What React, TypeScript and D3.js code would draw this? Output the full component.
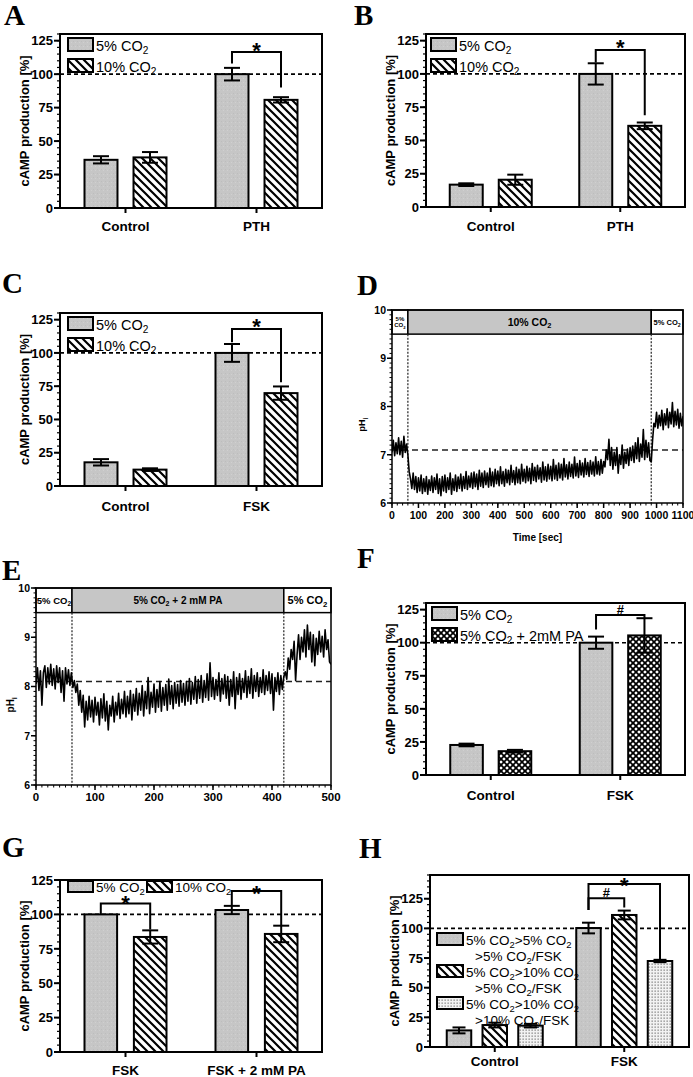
import React from "react";
import * as d3 from "d3";

const SANS = "'Liberation Sans', Arial, Helvetica, sans-serif";
const SERIF = "'Liberation Serif', 'Times New Roman', serif";
const GRAY = "#c6c6c6";

// ---------------- data ----------------
const Y_TICKS = [0, 25, 50, 75, 100, 125];
const REFERENCE = 100;

const A_CATEGORIES = ["Control", "PTH"];
const A_CO2_5 = [36, 100];
const A_CO2_5_ERR = [2.7, 4.7];
const A_CO2_10 = [37.8, 80.8];
const A_CO2_10_ERR = [4, 2];
const A_SIG = [{ category: 1, from: 0, to: 1, top: 116.5, fromEnd: 108, toEnd: 90, mark: "*" }];

const B_CATEGORIES = ["Control", "PTH"];
const B_CO2_5 = [16.8, 100];
const B_CO2_5_ERR = [1, 8];
const B_CO2_10 = [20.5, 61];
const B_CO2_10_ERR = [3.8, 2.5];
const B_SIG = [{ category: 1, from: 0, to: 1, top: 118, fromEnd: 108.5, toEnd: 69, mark: "*" }];

const C_CATEGORIES = ["Control", "FSK"];
const C_CO2_5 = [17.8, 100];
const C_CO2_5_ERR = [2.4, 6.7];
const C_CO2_10 = [12.3, 69.8];
const C_CO2_10_ERR = [1, 5];
const C_SIG = [{ category: 1, from: 0, to: 1, top: 118, fromEnd: 108, toEnd: 78, mark: "*" }];

const F_CATEGORIES = ["Control", "FSK"];
const F_CO2_5 = [22.7, 100];
const F_CO2_5_ERR = [1, 4.6];
const F_PA = [18, 105.5];
const F_PA_ERR = [1, 13];
const F_SIG = [{ category: 1, from: 0, to: 1, top: 121, fromEnd: 110, toEnd: 118, mark: "#" }];

const G_CATEGORIES = ["FSK", "FSK + 2 mM PA"];
const G_CO2_5 = [100, 103.2];
const G_CO2_5_ERR = [0, 3];
const G_CO2_10 = [83.6, 85.8];
const G_CO2_10_ERR = [4.8, 6];
const G_SIG = [
  { category: 0, from: 0, to: 1, top: 108, fromEnd: 100, toEnd: 89, mark: "*" },
  { category: 1, from: 0, to: 1, top: 117, fromEnd: 106.5, toEnd: 92, mark: "*" },
];

const H_CATEGORIES = ["Control", "FSK"];
const H_5_5_5 = [14, 100.3];
const H_5_5_5_ERR = [2.5, 4.5];
const H_5_10_5 = [18.5, 111.3];
const H_5_10_5_ERR = [2, 3.7];
const H_5_10_10 = [18, 72.5];
const H_5_10_10_ERR = [1.5, 1];
const H_SIG = [
  { category: 1, from: 0, to: 2, top: 137.5, fromEnd: 115.5, toEnd: 73.5, mark: "*" },
  { category: 1, from: 0, to: 1, top: 125.5, fromEnd: 115.5, toEnd: 117.5, mark: "#" },
];

const LEGEND_CO2 = ["5% CO{2}", "10% CO{2}"];
const LEGEND_PA = ["5% CO{2}", "5% CO{2} + 2mM PA"];
const LEGEND_H = [
  ["5% CO{2}>5% CO{2}", ">5% CO{2}/FSK"],
  ["5% CO{2}>10% CO{2}", ">5% CO{2}/FSK"],
  ["5% CO{2}>10% CO{2}", ">10% CO{2}/FSK"],
];

// pHi trace D (one reading every 5 s, 0..1100 s)
const D_DURATION = 1100;
const D_PHASES = [0, 60, 980, 1100];
const D_PHASE_LABELS = [["5%", "CO{2}"], ["10% CO{2}"], ["5% CO{2}"]];
const D_BASELINE = 7.1;
const D_X_TICKS = [0, 100, 200, 300, 400, 500, 600, 700, 800, 900, 1000, 1100];
const D_VALUES = [
  7.05, 7.30, 6.98, 7.25, 7.02, 7.35, 7.00, 7.28, 6.95, 7.38, 7.05, 7.22,
  7.00, 6.65, 6.50,
  6.30, 6.62, 6.28, 6.55, 6.22, 6.52, 6.25, 6.58, 6.20, 6.50, 6.24, 6.55, 6.18, 6.48, 6.26, 6.56,
  6.22, 6.52, 6.28, 6.60, 6.20, 6.50, 6.15, 6.55, 6.25, 6.58,
  6.22, 6.52, 6.28, 6.62, 6.18, 6.50, 6.26, 6.58, 6.24, 6.54,
  6.30, 6.60, 6.25, 6.55, 6.30, 6.65, 6.28, 6.56, 6.33, 6.62,
  6.30, 6.64, 6.34, 6.60, 6.28, 6.68, 6.35, 6.62, 6.32, 6.66,
  6.38, 6.62, 6.33, 6.72, 6.36, 6.64, 6.34, 6.70, 6.40, 6.66,
  6.36, 6.75, 6.40, 6.65, 6.35, 6.70, 6.42, 6.68, 6.38, 6.78,
  6.43, 6.67, 6.38, 6.74, 6.42, 6.70, 6.40, 6.80, 6.45, 6.70,
  6.42, 6.76, 6.46, 6.72, 6.40, 6.82, 6.47, 6.74, 6.44, 6.78,
  6.50, 6.73, 6.43, 6.85, 6.48, 6.75, 6.45, 6.80, 6.50, 6.76,
  6.46, 6.90, 6.50, 6.78, 6.47, 6.83, 6.52, 6.80, 6.48, 6.92,
  6.54, 6.79, 6.50, 6.85, 6.55, 6.80, 6.52, 6.95, 6.56, 6.82,
  6.53, 6.88, 6.58, 6.83, 6.54, 6.92, 6.59, 6.84, 6.55, 6.88,
  6.60, 6.85, 6.56, 6.96, 6.60, 6.86, 6.58, 6.90, 6.62, 6.86,
  6.75, 7.10, 6.90, 7.32, 6.78, 7.15,
  6.70, 7.05, 6.78, 7.15, 6.62, 7.00, 6.80, 7.20, 6.72, 7.05, 6.82, 7.12, 6.78, 7.15,
  6.88, 7.18, 6.84, 7.25, 6.92, 7.35, 6.86, 7.22, 6.95, 7.52, 6.90, 7.30, 6.95, 7.25, 6.88, 6.85,
  7.30, 7.65, 7.58, 7.88, 7.55, 7.82, 7.60, 7.92, 7.52, 7.85, 7.62, 7.95,
  7.56, 7.88, 7.64, 8.08, 7.58, 7.90, 7.62, 7.94, 7.55, 7.86, 7.60, 7.80,
];

// pHi trace E (one reading every 2.5 s, 0..500 s)
const E_DURATION = 500;
const E_PHASES = [0, 61, 420, 500];
const E_PHASE_LABELS = [["5% CO{2}"], ["5% CO{2} + 2 mM PA"], ["5% CO{2}"]];
const E_BASELINE = 8.1;
const E_X_TICKS = [0, 100, 200, 300, 400, 500];
const E_VALUES = [
  8.05, 8.38, 7.92, 8.32, 7.62, 8.28, 8.42, 7.98, 8.38, 8.05,
  8.45, 8.02, 8.36, 7.95, 8.42, 8.08, 8.38, 7.88, 8.32, 7.70,
  8.38, 8.05, 8.34, 8.02, 8.28,
  7.98, 8.12, 7.88, 8.05, 7.62, 7.92, 7.48, 7.82,
  7.18, 7.70, 7.32, 7.80, 7.38, 7.72, 7.28, 7.78, 7.42, 7.68,
  7.22, 7.75, 7.36, 7.85, 7.30, 7.70, 7.12, 7.62, 7.40, 7.80,
  7.28, 7.68, 7.42, 7.86, 7.35, 7.74, 7.45, 7.90,
  7.38, 7.80, 7.45, 7.92, 7.32, 7.84, 7.50, 7.96, 7.42, 7.86,
  7.52, 8.02, 7.40, 7.90, 7.55, 8.18, 7.45, 7.88, 7.58, 8.05,
  7.48, 7.94, 7.58, 8.10, 7.50, 7.98, 7.62, 8.04, 7.52, 8.15,
  7.64, 8.02, 7.55, 8.08, 7.66, 8.04, 7.60, 8.12, 7.68, 8.06,
  7.62, 8.10, 7.70, 8.16, 7.64, 8.08, 7.74, 8.20, 7.66, 8.14,
  7.76, 8.22, 7.68, 8.12, 7.78, 8.26, 7.72, 8.48, 7.80, 8.18,
  7.74, 8.14, 7.82, 8.28, 7.70, 8.16, 7.85, 8.24, 7.76, 8.20,
  7.62, 8.14, 7.80, 8.30, 7.55, 8.18, 7.84, 8.26, 7.74, 8.16,
  7.88, 8.32, 7.78, 8.20, 7.86, 8.36, 7.76, 8.22, 7.90, 8.28,
  7.80, 8.18, 7.88, 8.34, 7.84, 8.22, 7.92, 8.30, 7.86, 8.26,
  7.52, 8.18, 7.90, 8.28, 7.84, 8.22, 7.94, 8.20,
  8.30, 8.15, 8.58, 8.35, 8.75, 8.55, 8.92, 8.12,
  8.65, 9.05, 8.55, 9.00, 8.70, 9.15, 8.60, 9.25, 8.75, 9.10,
  8.50, 9.05, 8.42, 8.98, 8.65, 9.12, 8.70, 9.02, 8.60, 9.15,
  8.75, 8.95, 8.50, 8.45,
];

// ---------------- helpers ----------------
function rich(text: string, size: number) {
  const parts = text.split(/\{([^}]*)\}/);
  const out: any[] = [];
  let shifted = false;
  const sh = size * 0.25;
  parts.forEach((part, i) => {
    if (i % 2 === 1) {
      out.push(
        <tspan key={i} dy={sh} fontSize={size * 0.7}>
          {part}
        </tspan>
      );
      shifted = true;
    } else if (part.length) {
      out.push(
        <tspan key={i} dy={shifted ? -sh : 0}>
          {part}
        </tspan>
      );
      shifted = false;
    }
  });
  return out;
}

type Series = { label: string | string[]; values: number[]; errors: number[]; fill: string };
type Sig = { category: number; from: number; to: number; top: number; fromEnd: number; toEnd: number; mark: string };

type BarCfg = {
  left: number; right: number; top: number; bottom: number; yMax: number;
  categories: string[]; series: Series[]; groupWidth: number; innerPad: number;
  catLabelDy: number; cap: number;
  legend: { x: number[]; y: number[]; boxW: number; boxH: number; fontSize: number; lineGap: number };
  sig: Sig[]; markDy: number[];
};

function BarPanel({ c }: { c: BarCfg }) {
  const y = d3.scaleLinear().domain([0, c.yMax]).range([c.bottom, c.top]);
  const x0 = d3.scaleBand<string>().domain(c.categories).range([c.left, c.right]);
  const keys = c.series.map((_, i) => String(i));
  const x1 = d3
    .scaleBand<string>()
    .domain(keys)
    .range([-c.groupWidth / 2, c.groupWidth / 2])
    .paddingInner(c.innerPad);
  const catCenter = (ci: number) => (x0(c.categories[ci]) as number) + x0.bandwidth() / 2;
  const barX = (ci: number, si: number) => catCenter(ci) + (x1(String(si)) as number);
  const barMid = (ci: number, si: number) => barX(ci, si) + x1.bandwidth() / 2;
  const minor = d3.range(0, c.yMax + 0.001, 5);
  const fs = c.legend.fontSize;

  return (
    <g>
      <line x1={c.left} x2={c.right} y1={y(REFERENCE)} y2={y(REFERENCE)} stroke="#000" strokeWidth={1.6} strokeDasharray="4,3" />
      {c.series.map((s, si) =>
        s.values.map((v, ci) => (
          <rect key={`b${si}-${ci}`} x={barX(ci, si)} y={y(v)} width={x1.bandwidth()} height={y(0) - y(v)} fill={s.fill} stroke="#000" strokeWidth={2} />
        ))
      )}
      {c.series.map((s, si) =>
        s.values.map((v, ci) => {
          const e = s.errors[ci];
          if (!e) return null;
          const mx = barMid(ci, si);
          return (
            <g key={`e${si}-${ci}`} stroke="#000" strokeWidth={2}>
              <line x1={mx} x2={mx} y1={y(v - e)} y2={y(v + e)} />
              <line x1={mx - c.cap} x2={mx + c.cap} y1={y(v + e)} y2={y(v + e)} />
              <line x1={mx - c.cap} x2={mx + c.cap} y1={y(v - e)} y2={y(v - e)} />
            </g>
          );
        })
      )}
      {c.sig.map((s, i) => {
        const xa = barMid(s.category, s.from);
        const xb = barMid(s.category, s.to);
        const star = s.mark === "*";
        return (
          <g key={`s${i}`}>
            <path d={`M${xa},${y(s.fromEnd)}V${y(s.top)}H${xb}V${y(s.toEnd)}`} fill="none" stroke="#000" strokeWidth={2} />
            <text x={(xa + xb) / 2} y={y(s.top) + c.markDy[i]} textAnchor="middle" fontFamily={SANS} fontWeight="bold" fontSize={star ? 22 : 13}>
              {s.mark}
            </text>
          </g>
        );
      })}
      {c.series.map((s, si) => {
        const bx = c.legend.x[si];
        const by = c.legend.y[si];
        const lines = Array.isArray(s.label) ? s.label : [s.label];
        return (
          <g key={`l${si}`}>
            <rect x={bx} y={by} width={c.legend.boxW} height={c.legend.boxH} fill={s.fill} stroke="#000" strokeWidth={2} />
            {lines.map((ln, k) => (
              <text key={k} x={bx + c.legend.boxW + 3 + (k > 0 ? 9 : 0)} y={by + c.legend.boxH - 0.5 + k * c.legend.lineGap} fontFamily={SANS} fontSize={fs}>
                {rich(ln, fs)}
              </text>
            ))}
          </g>
        );
      })}
      {minor.map((t) => (
        <line key={`m${t}`} x1={c.left - 3} x2={c.left} y1={y(t)} y2={y(t)} stroke="#000" strokeWidth={1.2} />
      ))}
      {Y_TICKS.map((t) => (
        <g key={`t${t}`}>
          <line x1={c.left - 6} x2={c.left} y1={y(t)} y2={y(t)} stroke="#000" strokeWidth={2} />
          <text x={c.left - 7} y={y(t) + 4.7} textAnchor="end" fontFamily={SANS} fontWeight="bold" fontSize={13}>
            {t}
          </text>
        </g>
      ))}
      {c.categories.map((cat, ci) => (
        <g key={cat}>
          <line x1={catCenter(ci)} x2={catCenter(ci)} y1={c.bottom} y2={c.bottom + 5} stroke="#000" strokeWidth={2} />
          <text x={catCenter(ci)} y={c.bottom + c.catLabelDy} textAnchor="middle" fontFamily={SANS} fontWeight="bold" fontSize={13.5}>
            {cat}
          </text>
        </g>
      ))}
      <text
        transform={`translate(${c.left - 31},${(c.top + c.bottom) / 2}) rotate(-90)`}
        textAnchor="middle"
        fontFamily={SANS}
        fontWeight="bold"
        fontSize={13}
      >
        cAMP production [%]
      </text>
      <rect x={c.left} y={c.top} width={c.right - c.left} height={c.bottom - c.top} fill="none" stroke="#000" strokeWidth={2} />
    </g>
  );
}

type TraceCfg = {
  id: string; left: number; right: number; top: number; bottom: number;
  xMax: number; xTicks: number[]; xMinorStep: number; xFont: number; xLabelDy: number;
  values: number[]; duration: number; phases: number[]; phaseLabels: string[][]; phaseFonts: number[];
  baseline: number; yFont: number; title?: string; yLabelX: number; yLabelFont: number;
};

function TracePanel({ c }: { c: TraceCfg }) {
  const x = d3.scaleLinear().domain([0, c.xMax]).range([c.left, c.right]);
  const y = d3.scaleLinear().domain([6, 10]).range([c.bottom, c.top]);
  const n = c.values.length;
  const line = d3
    .line<number>()
    .x((_, i) => x((i * c.duration) / (n - 1)))
    .y((d) => y(d));
  const bandFloor = 9.5;
  const xMinor = d3.range(0, c.xMax + 0.001, c.xMinorStep);
  const yMajor = [6, 7, 8, 9, 10];
  const yMinor = d3.range(60, 101, 1).map((v) => v / 10);
  return (
    <g>
      <defs>
        <clipPath id={c.id}>
          <rect x={c.left} y={y(bandFloor)} width={c.right - c.left} height={c.bottom - y(bandFloor)} />
        </clipPath>
      </defs>
      {c.phases.slice(0, -1).map((p, i) => (
        <rect key={`p${i}`} x={x(p)} y={y(10)} width={x(c.phases[i + 1]) - x(p)} height={y(bandFloor) - y(10)} fill={i === 1 ? GRAY : "#fff"} stroke="#000" strokeWidth={1.5} />
      ))}
      {c.phases.slice(0, -1).map((p, i) => {
        const cx = (x(p) + x(c.phases[i + 1])) / 2;
        const lines = c.phaseLabels[i];
        const fsz = c.phaseFonts[i];
        const cy = (y(10) + y(bandFloor)) / 2;
        const start = cy + fsz * 0.35 - ((lines.length - 1) * fsz) / 2;
        return lines.map((ln, k) => (
          <text key={`pl${i}-${k}`} x={cx} y={start + k * fsz * 1.05} textAnchor="middle" fontFamily={SANS} fontWeight="bold" fontSize={fsz}>
            {rich(ln, fsz)}
          </text>
        ));
      })}
      {c.phases.slice(1, -1).map((p) => (
        <line key={`v${p}`} x1={x(p)} x2={x(p)} y1={y(bandFloor)} y2={c.bottom} stroke="#333" strokeWidth={1.3} strokeDasharray="2,1.5" />
      ))}
      <line x1={c.left} x2={c.right} y1={y(c.baseline)} y2={y(c.baseline)} stroke="#222" strokeWidth={1.5} strokeDasharray="6,4" />
      <path d={line(c.values) as string} fill="none" stroke="#000" strokeWidth={1.6} strokeLinejoin="round" clipPath={`url(#${c.id})`} />
      {yMinor.map((t) => (
        <line key={`ym${t}`} x1={c.left - 2.5} x2={c.left} y1={y(t)} y2={y(t)} stroke="#000" strokeWidth={1} />
      ))}
      {yMajor.map((t) => (
        <g key={`yt${t}`}>
          <line x1={c.left - 5} x2={c.left} y1={y(t)} y2={y(t)} stroke="#000" strokeWidth={1.5} />
          <text x={c.left - 6} y={y(t) + c.yFont * 0.36} textAnchor="end" fontFamily={SANS} fontWeight="bold" fontSize={c.yFont}>
            {t}
          </text>
        </g>
      ))}
      {xMinor.map((t) => (
        <line key={`xm${t}`} x1={x(t)} x2={x(t)} y1={c.bottom} y2={c.bottom + 2.5} stroke="#000" strokeWidth={1} />
      ))}
      {c.xTicks.map((t) => (
        <g key={`xt${t}`}>
          <line x1={x(t)} x2={x(t)} y1={c.bottom} y2={c.bottom + 5} stroke="#000" strokeWidth={1.5} />
          <text x={x(t)} y={c.bottom + c.xLabelDy} textAnchor="middle" fontFamily={SANS} fontWeight="bold" fontSize={c.xFont}>
            {t}
          </text>
        </g>
      ))}
      {c.title && (
        <text x={(c.left + c.right) / 2} y={c.bottom + 38} textAnchor="middle" fontFamily={SANS} fontWeight="bold" fontSize={10}>
          {c.title}
        </text>
      )}
      <text transform={`translate(${c.yLabelX},${(y(6) + y(bandFloor)) / 2 + 6}) rotate(-90)`} textAnchor="middle" fontFamily={SANS} fontWeight="bold" fontSize={c.yLabelFont}>
        pH
        <tspan dy={c.yLabelFont * 0.3} fontSize={c.yLabelFont * 0.7}>
          i
        </tspan>
      </text>
      <rect x={c.left} y={c.top} width={c.right - c.left} height={c.bottom - c.top} fill="none" stroke="#000" strokeWidth={1.5} />
    </g>
  );
}

const FILL_GRAY = "url(#gray)";
const FILL_HATCH = "url(#hatch)";
const FILL_CROSS = "url(#cross)";
const FILL_DOTS = "url(#dots)";

export default function App() {
  const vLegend = (x: number, y: number) => ({ x: [x, x], y: [y, y + 21], boxW: 25, boxH: 13, fontSize: 14.5, lineGap: 16 });

  const A: BarCfg = {
    left: 60, right: 322, top: 34, bottom: 208, yMax: 130,
    categories: A_CATEGORIES, groupWidth: 82, innerPad: 0.327, catLabelDy: 23, cap: 8,
    series: [
      { label: LEGEND_CO2[0], values: A_CO2_5, errors: A_CO2_5_ERR, fill: FILL_GRAY },
      { label: LEGEND_CO2[1], values: A_CO2_10, errors: A_CO2_10_ERR, fill: FILL_HATCH },
    ],
    legend: vLegend(68, 38), sig: A_SIG, markDy: [5.5],
  };
  const B: BarCfg = {
    left: 426, right: 685, top: 34, bottom: 207, yMax: 130,
    categories: B_CATEGORIES, groupWidth: 82, innerPad: 0.327, catLabelDy: 24, cap: 8,
    series: [
      { label: LEGEND_CO2[0], values: B_CO2_5, errors: B_CO2_5_ERR, fill: FILL_GRAY },
      { label: LEGEND_CO2[1], values: B_CO2_10, errors: B_CO2_10_ERR, fill: FILL_HATCH },
    ],
    legend: vLegend(431, 38), sig: B_SIG, markDy: [5.5],
  };
  const C: BarCfg = {
    left: 60, right: 322, top: 313, bottom: 486, yMax: 130,
    categories: C_CATEGORIES, groupWidth: 82, innerPad: 0.327, catLabelDy: 25, cap: 8,
    series: [
      { label: LEGEND_CO2[0], values: C_CO2_5, errors: C_CO2_5_ERR, fill: FILL_GRAY },
      { label: LEGEND_CO2[1], values: C_CO2_10, errors: C_CO2_10_ERR, fill: FILL_HATCH },
    ],
    legend: vLegend(68, 317), sig: C_SIG, markDy: [5.5],
  };
  const F: BarCfg = {
    left: 426, right: 685, top: 603, bottom: 775, yMax: 130,
    categories: F_CATEGORIES, groupWidth: 81, innerPad: 0.327, catLabelDy: 25, cap: 8,
    series: [
      { label: LEGEND_PA[0], values: F_CO2_5, errors: F_CO2_5_ERR, fill: FILL_GRAY },
      { label: LEGEND_PA[1], values: F_PA, errors: F_PA_ERR, fill: FILL_CROSS },
    ],
    legend: vLegend(432, 607), sig: F_SIG, markDy: [-1],
  };
  const G: BarCfg = {
    left: 60, right: 322, top: 880, bottom: 1052, yMax: 125,
    categories: G_CATEGORIES, groupWidth: 82, innerPad: 0.34, catLabelDy: 23, cap: 8,
    series: [
      { label: LEGEND_CO2[0], values: G_CO2_5, errors: G_CO2_5_ERR, fill: FILL_GRAY },
      { label: LEGEND_CO2[1], values: G_CO2_10, errors: G_CO2_10_ERR, fill: FILL_HATCH },
    ],
    legend: { x: [68, 147], y: [881, 881], boxW: 25, boxH: 11, fontSize: 13.5, lineGap: 16 }, sig: G_SIG, markDy: [8, 9.5],
  };
  const H: BarCfg = {
    left: 430, right: 689, top: 875, bottom: 1047, yMax: 145,
    categories: H_CATEGORIES, groupWidth: 96, innerPad: 0.315, catLabelDy: 19, cap: 6.5,
    series: [
      { label: LEGEND_H[0], values: H_5_5_5, errors: H_5_5_5_ERR, fill: FILL_GRAY },
      { label: LEGEND_H[1], values: H_5_10_5, errors: H_5_10_5_ERR, fill: FILL_HATCH },
      { label: LEGEND_H[2], values: H_5_10_10, errors: H_5_10_10_ERR, fill: FILL_DOTS },
    ],
    legend: { x: [437, 437, 437], y: [933, 965, 997], boxW: 26, boxH: 12, fontSize: 13.5, lineGap: 16.5 }, sig: H_SIG, markDy: [9, -1],
  };

  const D: TraceCfg = {
    id: "clipD", left: 392, right: 683, top: 310, bottom: 503,
    xMax: 1100, xTicks: D_X_TICKS, xMinorStep: 20, xFont: 10.5, xLabelDy: 16,
    values: D_VALUES, duration: D_DURATION, phases: D_PHASES, phaseLabels: D_PHASE_LABELS, phaseFonts: [6, 10.5, 7.5],
    baseline: D_BASELINE, yFont: 10.5, title: "Time [sec]", yLabelX: 365, yLabelFont: 9,
  };
  const E: TraceCfg = {
    id: "clipE", left: 36, right: 331, top: 588, bottom: 785,
    xMax: 500, xTicks: E_X_TICKS, xMinorStep: 10, xFont: 11.5, xLabelDy: 16,
    values: E_VALUES, duration: E_DURATION, phases: E_PHASES, phaseLabels: E_PHASE_LABELS, phaseFonts: [9.5, 10, 11],
    baseline: E_BASELINE, yFont: 10.5, yLabelX: 14, yLabelFont: 10,
  };

  const letters: [string, number, number][] = [
    ["A", 4, 25], ["B", 354, 25], ["C", 2, 293], ["D", 357, 295],
    ["E", 2, 580], ["F", 357, 568], ["G", 2, 857], ["H", 359, 858],
  ];

  return (
    <svg width={693} height={1077} style={{ position: "absolute", left: 0, top: 0, background: "#fff" }}>
      <defs>
        <pattern id="gray" patternUnits="userSpaceOnUse" width={4} height={4}>
          <rect width={4} height={4} fill={GRAY} />
          <rect x={1} y={1} width={1} height={1} fill="#bdbdbd" />
          <rect x={3} y={2} width={1} height={1} fill="#d0d0d0" />
        </pattern>
        <pattern id="hatch" patternUnits="userSpaceOnUse" width={8} height={8}>
          <rect width={8} height={8} fill="#fff" />
          <path d="M-2,-2L10,10M-2,6L2,10M6,-2L10,2" stroke="#000" strokeWidth={2.2} />
        </pattern>
        <pattern id="cross" patternUnits="userSpaceOnUse" width={6} height={6}>
          <rect width={6} height={6} fill="#fff" />
          <path d="M-1,-1L7,7M-1,5L1,7M5,-1L7,1M-1,7L7,-1M-1,1L1,-1M5,7L7,5" stroke="#000" strokeWidth={1.7} />
        </pattern>
        <pattern id="dots" patternUnits="userSpaceOnUse" width={3} height={3}>
          <rect width={3} height={3} fill="#f2f2f2" />
          <rect x={0.5} y={0.5} width={1.3} height={1.3} fill="#808080" />
        </pattern>
      </defs>
      <rect width={693} height={1077} fill="#fff" />
      <BarPanel c={A} />
      <BarPanel c={B} />
      <BarPanel c={C} />
      <TracePanel c={D} />
      <TracePanel c={E} />
      <BarPanel c={F} />
      <BarPanel c={G} />
      <BarPanel c={H} />
      {letters.map(([l, x, y]) => (
        <text key={l} x={x} y={y} fontFamily={SERIF} fontWeight="bold" fontSize={29}>
          {l}
        </text>
      ))}
    </svg>
  );
}
